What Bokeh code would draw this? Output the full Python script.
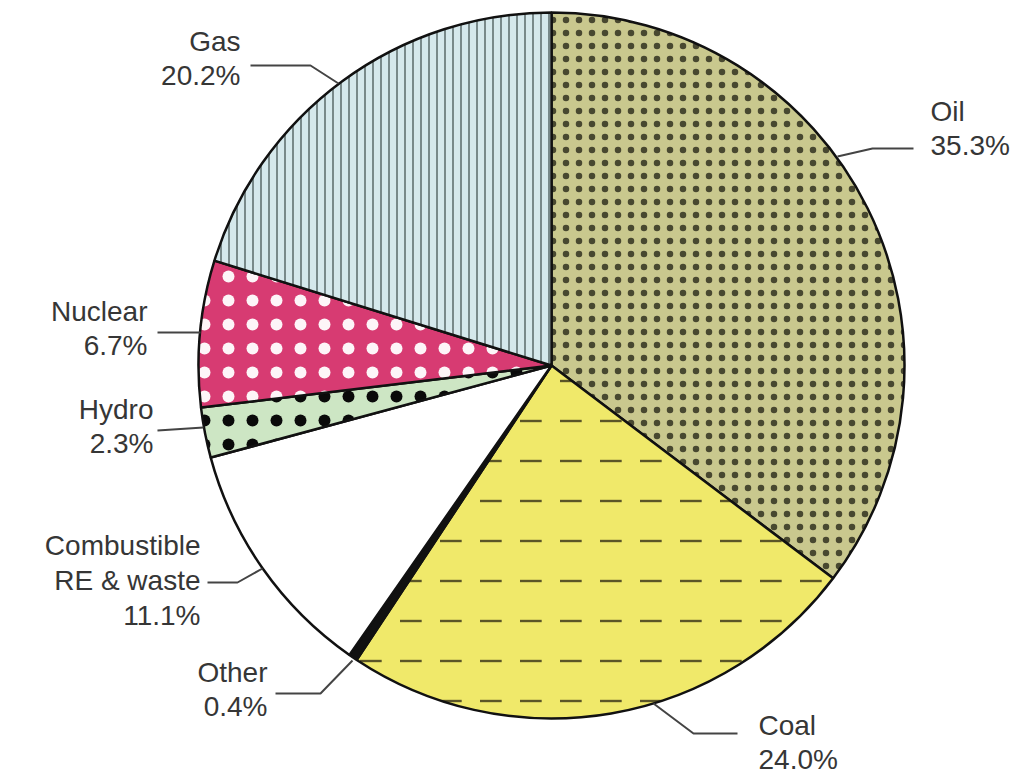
import math
from bokeh.plotting import figure
from bokeh.embed import file_html
from bokeh.resources import INLINE
from bokeh.core.properties import value

# ---- data ----
labels = ["Oil", "Coal", "Other", "Combustible\nRE & waste", "Hydro", "Nuclear", "Gas"]
shares = [35.3, 24.0, 0.4, 11.1, 2.3, 6.7, 20.2]

# ---- styles ----
fills = ["#c9c88e", "#f0e96a", "#111111", "#ffffff", "#cde6c4", "#d73b72", "#d5e8ec"]
hatches = ["dot", "horizontal_dash", None, None, "dot", "dot", "vertical_line"]
hatch_cols = ["#1e1e10", "#4a4520", None, None, "#0a0a0a", "#ffffff", "#3a4848"]
hatch_scales = [13, 40, None, None, 24, 24, 8]
hatch_alphas = [0.75, 0.9, 1, 1, 1.0, 0.95, 1.0]
hatch_weights = [1.0, 2.4, None, None, 2.2, 2.2, 1.2]

W, H = 1014, 775
def X(sx):
    return sx
def Y(sy):
    return H - sy

cx, cy, R = X(551), Y(365), 353

p = figure(width=W, height=H, x_range=(0, W), y_range=(0, H),
           output_backend="svg", toolbar_location=None, min_border=0)
p.axis.visible = False
p.grid.visible = False
p.outline_line_color = None
p.background_fill_color = "white"

total = sum(shares)
cum = 0.0
for i, s in enumerate(shares):
    a0 = math.pi / 2 - 2 * math.pi * cum / total
    cum += s
    a1 = math.pi / 2 - 2 * math.pi * cum / total
    kw = {}
    if hatches[i]:
        kw = dict(hatch_pattern=hatches[i], hatch_color=hatch_cols[i],
                  hatch_scale=hatch_scales[i], hatch_weight=hatch_weights[i],
                  hatch_alpha=hatch_alphas[i])
    p.wedge(x=cx, y=cy, radius=R, start_angle=a0, end_angle=a1, direction="clock",
            fill_color=fills[i], line_color="#111111", line_width=2.5, **kw)

# ---- label layout (screen coords) ----
leaders = [
    [(837, 156), (872, 148), (913, 148)],   # Oil
    [(653, 703), (693, 733), (737, 733)],   # Coal
    [(352, 660), (320, 693), (275, 693)],   # Other
    [(262, 568), (237, 582), (207, 582)],   # Combustible
    [(203, 427), (157, 430)],               # Hydro
    [(200, 332), (157, 332)],               # Nuclear
    [(338, 83), (310, 65), (250, 65)],      # Gas
]
text_pos = [
    (930, 128, "left"),
    (758, 742, "left"),
    (267, 689, "right"),
    (200, 580, "right"),
    (153, 426, "right"),
    (147, 328, "right"),
    (240, 58, "right"),
]

for i, lab in enumerate(labels):
    pts = leaders[i]
    p.line(x=[X(a) for a, b in pts], y=[Y(b) for a, b in pts],
           line_color="#444444", line_width=2)
    tx, ty, al = text_pos[i]
    txt = "%s\n%.1f%%" % (lab, shares[i])
    p.text(x=[X(tx)], y=[Y(ty)], text=[txt], text_align=al, text_baseline="middle",
           text_font=value("Liberation Sans"), text_font_size="28px",
           text_color="#363636", text_line_height=1.12)

open("out.html", "w").write(file_html(p, INLINE))
